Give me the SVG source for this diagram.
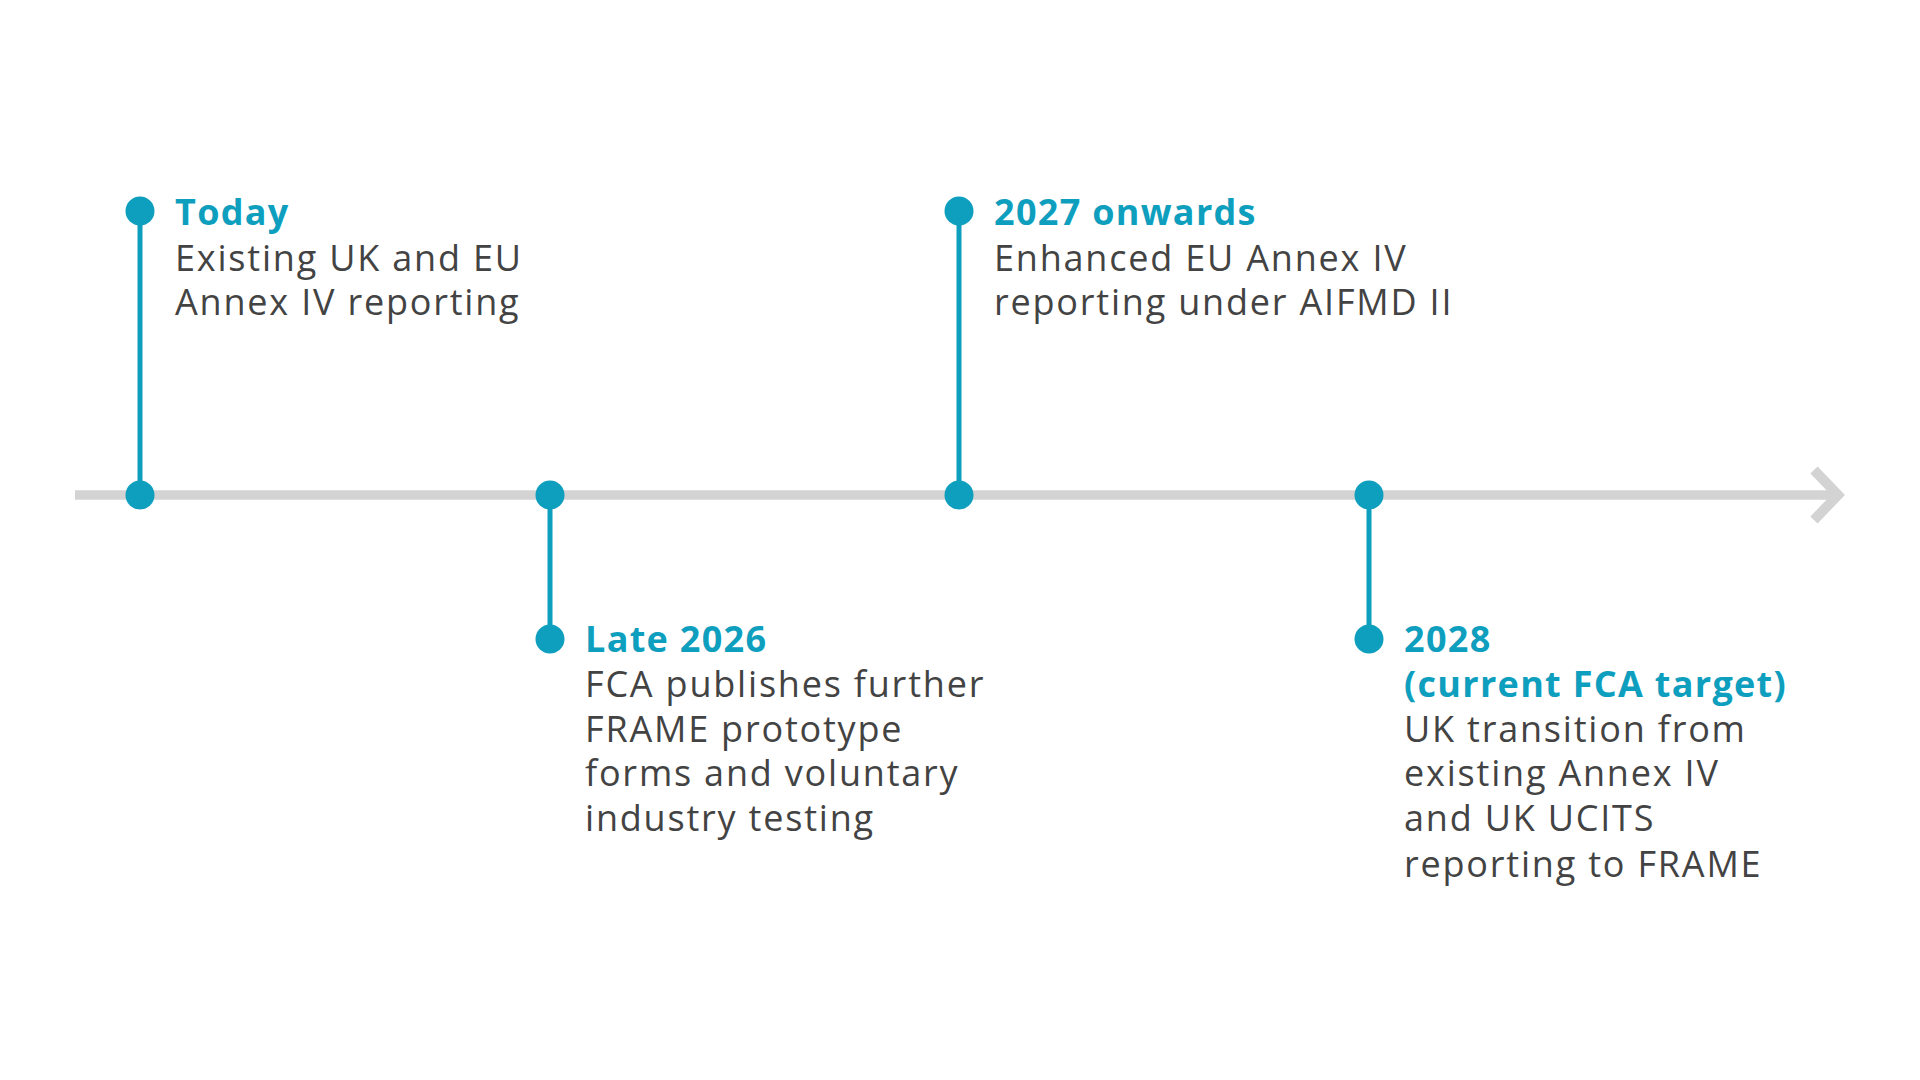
<svg xmlns="http://www.w3.org/2000/svg" width="1920" height="1080" viewBox="0 0 1920 1080">
<style>
.axis{stroke:#d3d3d3;stroke-width:9.5;fill:none}
.stem{stroke:#0e9ebe;stroke-width:5;fill:none}
.dot{fill:#0e9ebe}
.head{font-family:"Open Sans","Liberation Sans",sans-serif;font-weight:700;font-size:36px;letter-spacing:1.3px;fill:#0e9ebe}
.body{font-family:"Open Sans","Liberation Sans",sans-serif;font-weight:400;font-size:36px;letter-spacing:1.8px;fill:#434343}
</style>
<rect width="1920" height="1080" fill="#ffffff"/>
<g id="connectors">
<line class="axis" x1="75" y1="495" x2="1836" y2="495"/>
<polyline class="axis" points="1814,470 1838,495 1814,520" stroke-linejoin="miter" style="stroke-width:10"/>
<line class="stem" x1="140" y1="211" x2="140" y2="495"/>
<line class="stem" x1="550" y1="495" x2="550" y2="639"/>
<line class="stem" x1="959" y1="211" x2="959" y2="495"/>
<line class="stem" x1="1369" y1="495" x2="1369" y2="639"/>
</g>
<g id="node-today">
<circle class="dot" cx="140" cy="211" r="14.5"/>
<circle class="dot" cx="140" cy="495" r="14.5"/>
<text class="head" x="175" y="225">Today</text>
<text class="body" x="175" y="271">Existing UK and EU</text>
<text class="body" x="175" y="315">Annex IV reporting</text>
</g>
<g id="node-late2026">
<circle class="dot" cx="550" cy="495" r="14.5"/>
<circle class="dot" cx="550" cy="639" r="14.5"/>
<text class="head" x="585" y="652">Late 2026</text>
<text class="body" x="585" y="697">FCA publishes further</text>
<text class="body" x="585" y="742">FRAME prototype</text>
<text class="body" x="585" y="786">forms and voluntary</text>
<text class="body" x="585" y="831">industry testing</text>
</g>
<g id="node-2027">
<circle class="dot" cx="959" cy="211" r="14.5"/>
<circle class="dot" cx="959" cy="495" r="14.5"/>
<text class="head" x="994" y="225">2027 onwards</text>
<text class="body" x="994" y="271">Enhanced EU Annex IV</text>
<text class="body" x="994" y="315">reporting under AIFMD II</text>
</g>
<g id="node-2028">
<circle class="dot" cx="1369" cy="495" r="14.5"/>
<circle class="dot" cx="1369" cy="639" r="14.5"/>
<text class="head" x="1404" y="652">2028</text>
<text class="head" x="1404" y="697">(current FCA target)</text>
<text class="body" x="1404" y="742">UK transition from</text>
<text class="body" x="1404" y="786">existing Annex IV</text>
<text class="body" x="1404" y="831">and UK UCITS</text>
<text class="body" x="1404" y="877">reporting to FRAME</text>
</g>
</svg>
